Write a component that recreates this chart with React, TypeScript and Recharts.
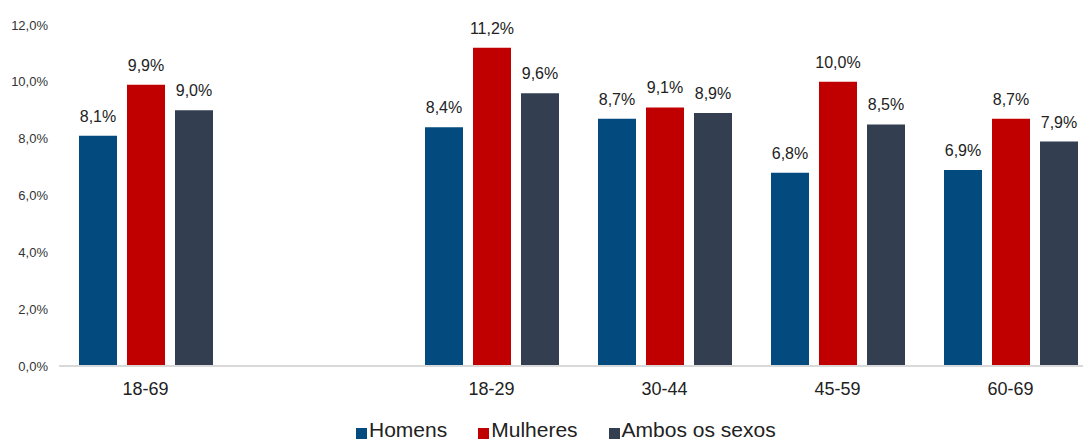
import React from 'react';
import { BarChart, Bar, XAxis, YAxis, Legend, LabelList } from 'recharts';

const categories = ['18-69', '', '18-29', '30-44', '45-59', '60-69'];
const homens = [8.1, null, 8.4, 8.7, 6.8, 6.9];
const mulheres = [9.9, null, 11.2, 9.1, 10.0, 8.7];
const ambos = [9.0, null, 9.6, 8.9, 8.5, 7.9];
const yTicks = [0, 2, 4, 6, 8, 10, 12];

const series = [
  { key: 'homens', name: 'Homens', color: '#034A7E' },
  { key: 'mulheres', name: 'Mulheres', color: '#C00000' },
  { key: 'ambos', name: 'Ambos os sexos', color: '#333F50' },
];

const data = categories.map((cat, i) => ({
  cat,
  homens: homens[i],
  mulheres: mulheres[i],
  ambos: ambos[i],
}));

const FONT = '"Liberation Sans", Arial, Helvetica, sans-serif';

const pct = (v: number | null | undefined) =>
  v == null ? '' : `${Number(v).toFixed(1).replace('.', ',')}%`;

const LegendContent = () => (
  <div
    style={{
      display: 'flex',
      alignItems: 'center',
      height: 24,
      paddingLeft: 356,
      fontFamily: FONT,
      fontSize: 21,
      color: '#222',
      whiteSpace: 'nowrap',
    }}
  >
    {series.map((s) => (
      <div key={s.key} style={{ display: 'flex', alignItems: 'center', marginRight: 31 }}>
        <span
          style={{
            display: 'inline-block',
            width: 11,
            height: 11,
            background: s.color,
            marginRight: 2,
            marginTop: 6,
          }}
        />
        <span>{s.name}</span>
      </div>
    ))}
  </div>
);

export default function App() {
  return (
    <div
      style={{
        position: 'fixed',
        left: 0,
        top: 0,
        width: 1083,
        height: 442,
        overflow: 'hidden',
        background: '#fff',
      }}
    >
      <BarChart
        width={1100}
        height={442}
        data={data}
        margin={{ top: 25, right: 3, left: 0, bottom: 0 }}
        barSize={38}
        barGap={10}
      >
        <XAxis
          dataKey="cat"
          height={52}
          tickLine={false}
          tickSize={0}
          tickMargin={16}
          axisLine={{ stroke: '#d9d9d9', strokeWidth: 2 }}
          tick={{ fontSize: 18, fill: '#222', fontFamily: FONT }}
          interval={0}
        />
        <YAxis
          width={59}
          domain={[0, 12]}
          ticks={yTicks}
          axisLine={false}
          tickLine={false}
          tickSize={0}
          tickMargin={11}
          tickFormatter={pct}
          tick={{ fontSize: 13, fill: '#333', fontFamily: FONT }}
        />
        <Legend
          verticalAlign="bottom"
          content={<LegendContent />}
          wrapperStyle={{ top: 418, left: 0, width: 1100, height: 24 }}
        />
        {series.map((s) => (
          <Bar
            key={s.key}
            dataKey={s.key}
            name={s.name}
            fill={s.color}
            isAnimationActive={false}
          >
            <LabelList
              dataKey={s.key}
              position="top"
              offset={14}
              formatter={pct}
              style={{ fontSize: 16, fill: '#222', fontFamily: FONT }}
            />
          </Bar>
        ))}
      </BarChart>
    </div>
  );
}
